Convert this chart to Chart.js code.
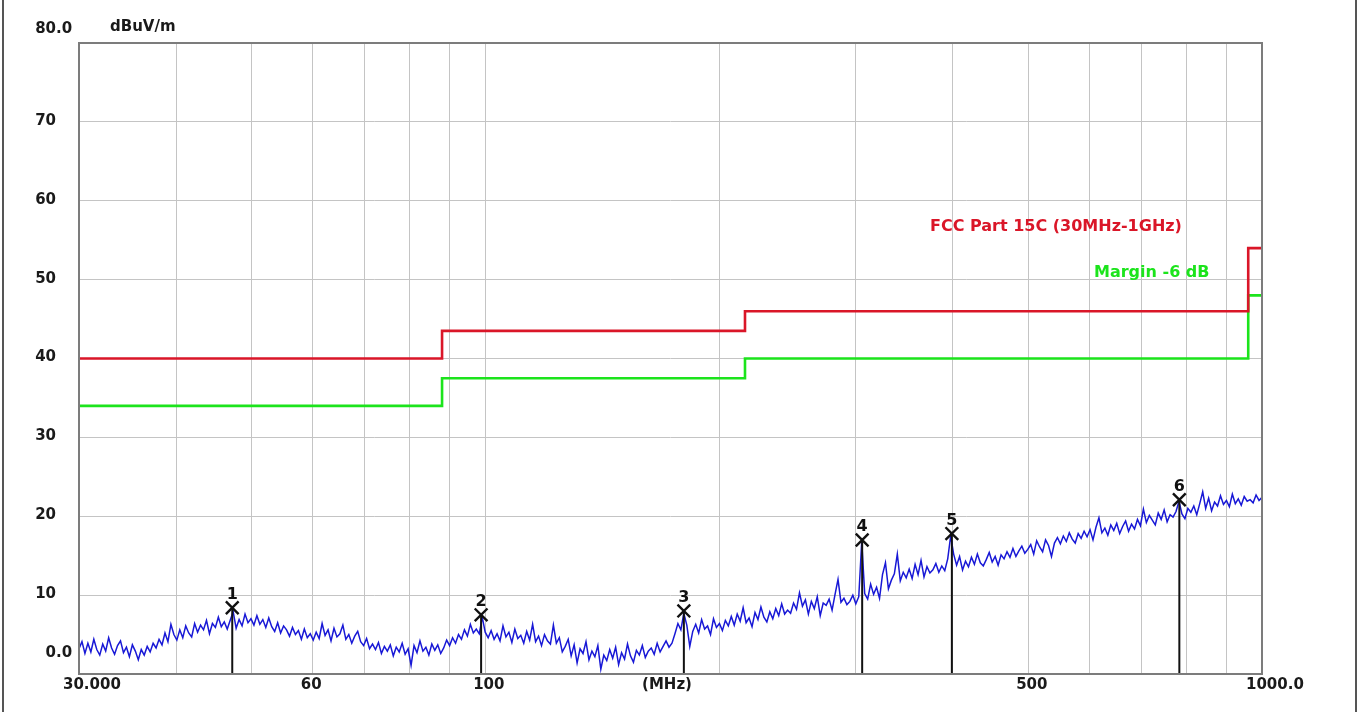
<!DOCTYPE html>
<html>
<head>
<meta charset="utf-8">
<title>Radiated Emission 30MHz-1GHz</title>
<script src="https://cdn.jsdelivr.net/npm/chart.js@4.4.1/dist/chart.umd.min.js"></script>
<style>
  html, body { margin: 0; padding: 0; background: #fff; }
  #myChart { display: block; }
</style>
</head>
<body>
<canvas id="myChart" width="1360" height="712"></canvas>
<script>
//SWEEP RANGE (MHz), POINTS ARE LOG SPACED ACROSS IT
const sweepStart = 30,
  sweepStop = 1000;

//SCAN LEVELS IN dBuV/m, ONE PER SWEEP POINT
const scanLevels = [
  3.2, 4.1, 2.6, 3.9, 2.8, 4.4, 3.1, 2.4, 3.8, 2.9, 4.6, 3.3, 2.5, 3.6, 4.2, 2.7, 3.4, 2.2, 3.7, 2.9,
  1.8, 3.1, 2.4, 3.5, 2.8, 3.9, 3.3, 4.4, 3.7, 5.2, 4.1, 6.3, 5.0, 4.3, 5.6, 4.6, 6.1, 5.2, 4.7, 6.4,
  5.3, 6.2, 5.6, 6.8, 5.1, 6.4, 5.9, 7.2, 6.0, 6.6, 5.7, 6.8, 7.9, 5.8, 6.9, 6.1, 7.6, 6.5, 7.0, 6.2,
  7.4, 6.3, 6.9, 5.9, 7.1, 6.0, 5.4, 6.5, 5.2, 6.1, 5.6, 4.8, 5.9, 5.0, 5.5, 4.4, 5.7, 4.6, 5.1, 4.3,
  5.3, 4.5, 6.4, 4.9, 5.6, 4.2, 5.8, 4.7, 5.1, 6.2, 4.4, 5.0, 3.9, 4.8, 5.4, 4.1, 3.6, 4.5, 3.2, 3.8,
  3.1, 4.0, 2.6, 3.5, 2.9, 3.7, 2.3, 3.4, 2.8, 3.9, 2.5, 3.2, 1.1, 3.6, 2.7, 4.2, 2.9, 3.4, 2.4, 3.8,
  3.0, 3.7, 2.6, 3.3, 4.3, 3.6, 4.6, 3.9, 5.0, 4.4, 5.6, 4.8, 6.3, 5.2, 5.7, 5.1, 7.2, 5.3, 4.6, 5.5,
  4.4, 5.1, 4.2, 6.1, 4.7, 5.3, 4.0, 5.7, 4.5, 4.9, 3.9, 5.4, 4.3, 6.3, 4.1, 4.8, 3.6, 5.0, 4.2, 3.8,
  6.2, 3.9, 4.6, 2.8, 3.5, 4.4, 2.3, 3.7, 1.4, 3.2, 2.6, 4.1, 1.8, 2.9, 2.2, 3.6, 0.6, 2.4, 1.7, 3.1,
  2.0, 3.4, 1.2, 2.7, 1.9, 3.8, 2.3, 1.5, 3.0, 2.4, 3.6, 2.1, 2.9, 3.3, 2.5, 3.9, 2.8, 3.5, 4.2, 3.4,
  3.9, 5.1, 6.4, 5.6, 7.7, 6.2, 3.5, 5.4, 6.3, 5.2, 6.9, 5.7, 6.1, 5.0, 7.0, 5.9, 6.4, 5.5, 6.8, 6.1,
  7.3, 6.2, 7.6, 6.7, 8.4, 6.5, 7.1, 6.0, 7.8, 6.9, 8.5, 7.2, 6.6, 7.9, 7.0, 8.3, 7.4, 8.9, 7.6, 8.1,
  7.7, 9.0, 8.2, 10.3, 8.6, 9.4, 7.6, 9.2, 8.3, 9.8, 7.4, 9.0, 8.7, 9.5, 8.1, 10.1, 12.0, 9.1, 9.6, 8.8,
  9.2, 10.0, 8.9, 9.8, 16.8, 10.2, 9.5, 11.4, 10.1, 11.0, 9.6, 12.6, 14.1, 10.8, 11.9, 12.7, 15.2, 11.8, 12.9, 12.2,
  13.3, 12.1, 13.9, 12.6, 14.4, 12.3, 13.6, 12.8, 13.2, 14.0, 12.9, 13.7, 13.1, 14.6, 17.5, 15.2, 13.8, 14.9, 13.2, 14.3,
  13.6, 14.8, 13.9, 15.2, 14.1, 13.7, 14.5, 15.4, 14.2, 14.9, 13.8, 15.1, 14.6, 15.5, 14.8, 15.9, 14.9, 15.6, 16.2, 15.3,
  15.8, 16.4, 15.2, 16.9, 16.1, 15.5, 17.0, 16.3, 14.9, 16.6, 17.3, 16.5, 17.5, 16.8, 17.9, 17.1, 16.6, 17.8, 17.2, 18.1,
  17.4, 18.3, 17.0, 18.6, 19.8, 17.9, 18.5, 17.6, 18.9, 18.2, 19.1, 17.8, 18.7, 19.4, 18.1, 19.0, 18.4, 19.6, 18.8, 20.9,
  19.2, 20.1, 19.5, 18.9, 20.4, 19.6, 20.8, 19.3, 20.2, 19.9, 20.6, 21.9, 20.3, 19.7, 21.0, 20.5, 21.3, 20.2, 21.6, 23.1,
  21.0, 22.3, 20.7, 21.8, 21.3, 22.6, 21.5, 22.0, 21.2, 22.8, 21.6, 22.2, 21.4, 22.5, 21.9, 22.1, 21.7, 22.7, 22.0, 22.4,
];

//LIMIT BANDS: EDGES IN MHz, ONE LEVEL PER BAND
const bandEdges = [30, 88, 216, 960, 1000];
const fccLimit = [40, 43.5, 46, 54];
const marginLimit = [34, 37.5, 40, 48];

//PEAK MARKERS
const markerNo = ["1", "2", "3", "4", "5", "6"];
const markerFreq = [47.25, 98.8, 180.2, 305.7, 398.8, 782.7];
const markerLevel = [8.4, 7.5, 8.0, 17.0, 17.8, 22.1];

//AXIS TICKS
const xGridValues = [30, 40, 50, 60, 70, 80, 90, 100, 200, 300, 400, 500, 600, 700, 800, 900, 1000];
const xTickValues = [30, 60, 100, 500, 1000];
const xTickText = ["30.000", "60", "100", "500", "1000.0"];
const yTickValues = [0, 10, 20, 30, 40, 50, 60, 70, 80];
const yTickText = ["0.0", "10", "20", "30", "40", "50", "60", "70", "80.0"];

const FONT = '"DejaVu Sans", Verdana, sans-serif';
const RED = "rgb(218, 22, 40)";
const GREEN = "rgb(28, 228, 28)";

function sweepPoints() {
  //SPREAD THE LEVELS OVER THE LOG SWEEP
  const n = scanLevels.length;
  return scanLevels.map((v, i) => ({
    x: sweepStart * Math.pow(sweepStop / sweepStart, i / (n - 1)),
    y: v,
  }));
}

function stepPoints(levels) {
  //FLAT SEGMENT PER BAND, THE LINE JOINS THEM WITH A VERTICAL STEP
  let pts = [];
  for (let i = 0; i < levels.length; i++) {
    pts.push({ x: bandEdges[i], y: levels[i] });
    pts.push({ x: bandEdges[i + 1], y: levels[i] });
  }
  return pts;
}

const decor = {
  id: "decor",
  beforeDraw(chart) {
    //OUTER FRAME
    const ctx = chart.ctx;
    ctx.save();
    ctx.strokeStyle = "#555";
    ctx.lineWidth = 2;
    ctx.beginPath();
    ctx.moveTo(3, 0);
    ctx.lineTo(3, chart.height);
    ctx.moveTo(1356, 0);
    ctx.lineTo(1356, chart.height);
    ctx.stroke();
    ctx.restore();
  },
  afterDatasetsDraw(chart) {
    //MARKER STEMS AND NUMBERS
    const ctx = chart.ctx;
    const xs = chart.scales.x,
      ys = chart.scales.y;
    const bottom = chart.chartArea.bottom;
    ctx.save();
    ctx.strokeStyle = "#111";
    ctx.lineWidth = 2;
    ctx.fillStyle = "#111";
    ctx.font = "bold 16px " + FONT;
    ctx.textAlign = "center";
    ctx.textBaseline = "alphabetic";
    for (let i = 0; i < markerFreq.length; i++) {
      const px = xs.getPixelForValue(markerFreq[i]);
      const py = ys.getPixelForValue(markerLevel[i]);
      ctx.beginPath();
      ctx.moveTo(px, py);
      ctx.lineTo(px, bottom);
      ctx.stroke();
      ctx.fillText(markerNo[i], px, py - 9);
    }
    ctx.restore();
  },
  afterDraw(chart) {
    const ctx = chart.ctx;
    const a = chart.chartArea;
    const xs = chart.scales.x,
      ys = chart.scales.y;
    ctx.save();

    //PLOT FRAME
    ctx.strokeStyle = "#7c7c7c";
    ctx.lineWidth = 2;
    ctx.strokeRect(a.left, a.top, a.right - a.left, a.bottom - a.top);

    //Y LABELS, LINED UP ON THE DECIMAL POINT
    ctx.fillStyle = "#1a1a1a";
    ctx.font = "bold 15px " + FONT;
    ctx.textBaseline = "middle";
    for (let i = 0; i < yTickValues.length; i++) {
      let py = ys.getPixelForValue(yTickValues[i]);
      if (i === yTickValues.length - 1) py -= 14;
      else if (i === 0) py -= 21;
      else py -= 1;
      const parts = yTickText[i].split(".");
      ctx.textAlign = "right";
      ctx.fillText(parts[0], 56, py);
      if (parts.length > 1) {
        ctx.textAlign = "left";
        ctx.fillText("." + parts[1], 56, py);
      }
    }

    //X LABELS
    ctx.textAlign = "left";
    for (let i = 0; i < xTickValues.length; i++) {
      const px = xs.getPixelForValue(xTickValues[i]);
      const shift = i === 0 || i === xTickValues.length - 1 ? 16 : 12;
      ctx.fillText(xTickText[i], px - shift, 685);
    }
    ctx.textAlign = "center";
    ctx.fillText("(MHz)", 667, 685);

    //UNIT
    ctx.textAlign = "left";
    ctx.fillText("dBuV/m", 110, 27);

    //LIMIT NAMES
    ctx.font = "bold 16px " + FONT;
    ctx.fillStyle = RED;
    ctx.fillText(chart.data.datasets[2].label, 930, 227);
    ctx.fillStyle = GREEN;
    ctx.fillText(chart.data.datasets[3].label, 1094, 273);

    ctx.restore();
  },
};

const myChart = document.getElementById("myChart");

const data = {
  datasets: [
    {
      label: "Markers",
      type: "scatter",
      data: markerFreq.map((f, i) => ({ x: f, y: markerLevel[i] })),
      pointStyle: "crossRot",
      pointRadius: 9,
      pointBorderWidth: 2.4,
      borderColor: "#111",
      backgroundColor: "#111",
    },
    {
      label: "Scan",
      data: sweepPoints(),
      borderColor: "rgb(24, 24, 214)",
      borderWidth: 1.5,
      pointRadius: 0,
      tension: 0,
    },
    {
      label: "FCC Part 15C (30MHz-1GHz)",
      data: stepPoints(fccLimit),
      borderColor: RED,
      borderWidth: 2.6,
      pointRadius: 0,
      tension: 0,
    },
    {
      label: "Margin -6 dB",
      data: stepPoints(marginLimit),
      borderColor: GREEN,
      borderWidth: 2.6,
      pointRadius: 0,
      tension: 0,
    },
  ],
};

const config = {
  type: "line",
  data: data,
  options: {
    responsive: false,
    animation: false,
    devicePixelRatio: 1,
    layout: {
      padding: { left: 79, top: 43, right: 98, bottom: 38 },
    },
    plugins: {
      legend: { display: false },
      tooltip: { enabled: false },
    },
    scales: {
      x: {
        type: "logarithmic",
        min: sweepStart,
        max: sweepStop,
        afterBuildTicks: (scale) => {
          scale.ticks = xGridValues.map((v) => ({ value: v }));
        },
        ticks: { display: false },
        grid: { color: "#c4c4c4", lineWidth: 1, drawTicks: false },
        border: { display: false },
      },
      y: {
        min: 0,
        max: 80,
        afterBuildTicks: (scale) => {
          scale.ticks = yTickValues.map((v) => ({ value: v }));
        },
        ticks: { display: false },
        grid: { color: "#c4c4c4", lineWidth: 1, drawTicks: false },
        border: { display: false },
      },
    },
  },
  plugins: [decor],
};

const radarChart = new Chart(myChart, config);
</script>
</body>
</html>
